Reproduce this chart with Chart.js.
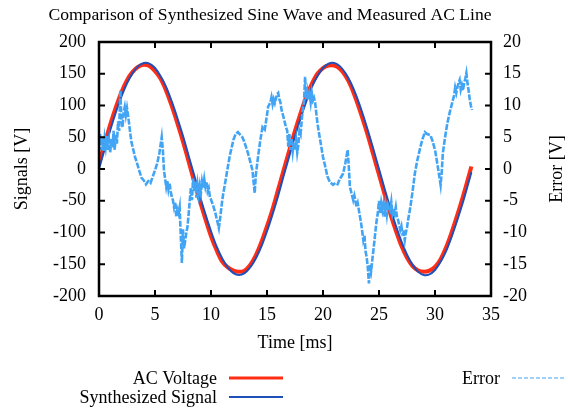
<!DOCTYPE html>
<html>
<head>
<meta charset="utf-8">
<script src="https://cdn.jsdelivr.net/npm/chart.js@4.4.1/dist/chart.umd.min.js"></script>
<style>
html,body{margin:0;padding:0;background:#fff;}
#wrap{width:568px;height:409px;position:relative;}
</style>
</head>
<body>
<div id="wrap"><canvas id="c" width="568" height="409"></canvas></div>
<script>
// ---- data ----
const chartTitle = 'Comparison of Synthesized Sine Wave and Measured AC Line';
const xTitle = 'Time [ms]';
const yTitle = 'Signals [V]';
const y2Title = 'Error [V]';
const seriesNames = ['AC Voltage', 'Synthesized Signal', 'Error'];

const signalTime = [0,0.5,1,1.5,2,2.5,3,3.5,4,4.5,5,5.5,6,6.5,7,7.5,8,8.5,9,9.5,
  10,10.5,11,11.5,12,12.5,13,13.5,14,14.5,15,15.5,16,16.5,17,17.5,18,18.5,19,19.5,
  20,20.5,21,21.5,22,22.5,23,23.5,24,24.5,25,25.5,26,26.5,27,27.5,28,28.5,29,29.5,
  30,30.5,31,31.5,32,32.5,33,33.25];

const acVoltage = [9,40,70,97,121,140,153,161,164,162,
  154,142,123,99,72,43,12,-20,-50,-79,
  -106,-128,-146,-155,-160,-162,-160,-151,-136,-115,
  -90,-63,-32,-1,30,60,88,114,134,150,
  159,163,163,158,147,130,107,81,53,22,
  -9,-40,-70,-97,-121,-140,-153,-160,-162,-160,
  -154,-142,-123,-99,-72,-43,-12,4];

const synthesizedSignal = [0,31,61,89,114,135,151,162,167,166,
  159,146,129,106,80,52,21,-10,-42,-71,
  -98,-122,-141,-155,-164,-167,-164,-155,-141,-122,
  -98,-71,-42,-10,21,52,80,106,129,146,
  159,166,167,162,151,135,114,89,61,31,
  0,-31,-61,-89,-114,-135,-151,-162,-167,-166,
  -159,-146,-129,-106,-80,-52,-21,-5];

const errorTime = [
  0.0,0.1,0.2,0.3,0.4,0.5,0.6,0.7,0.8,0.9,
  1.0,1.1,1.2,1.3,1.4,1.5,1.6,1.7,1.8,1.9,
  2.0,2.1,2.2,2.3,2.4,2.5,2.6,2.7,2.8,2.9,
  3.0,3.2,3.4,3.6,3.8,4.0,4.2,4.4,4.6,4.8,
  5.0,5.2,5.4,5.6,5.7,5.8,5.9,6.0,6.1,6.2,
  6.3,6.4,6.5,6.6,6.7,6.8,6.9,7.0,7.1,7.2,
  7.3,7.4,7.5,7.6,7.7,7.8,7.9,8.0,8.1,8.2,
  8.3,8.4,8.5,8.6,8.7,8.8,8.9,9.0,9.1,9.2,
  9.3,9.4,9.5,9.6,9.7,9.8,9.9,10.0,10.2,10.4,
  10.5,10.6,10.7,10.8,10.9,11.0,11.1,11.3,11.5,11.7,
  11.9,12.0,12.2,12.4,12.6,12.8,12.9,13.1,13.3,13.5,
  13.7,13.8,13.9,14.0,14.1,14.2,14.4,14.6,14.8,15.0,
  15.1,15.3,15.4,15.5,15.6,15.7,15.9,16.0,16.1,16.2,
  16.3,16.5,16.7,16.8,16.9,17.0,17.1,17.2,17.3,17.4,
  17.5,17.6,17.7,17.8,17.9,18.0,18.1,18.2,18.3,18.4,
  18.5,18.6,18.7,18.8,18.9,19.0,19.1,19.2,19.3,19.4,
  19.5,19.6,19.8,20.0,20.2,20.4,20.6,20.9,21.1,21.3,
  21.5,21.8,22.0,22.2,22.3,22.4,22.5,22.7,22.8,23.0,
  23.1,23.3,23.4,23.5,23.6,23.7,23.8,23.9,24.0,24.1,
  24.2,24.3,24.4,24.5,24.6,24.7,24.8,24.9,25.0,25.1,
  25.2,25.3,25.4,25.5,25.6,25.7,25.8,26.0,26.1,26.2,
  26.3,26.4,26.5,26.6,26.7,26.8,26.9,27.0,27.1,27.2,
  27.3,27.4,27.5,27.6,27.8,28.0,28.2,28.4,28.7,28.9,
  29.1,29.3,29.6,29.8,30.0,30.1,30.3,30.5,30.6,30.7,
  30.9,31.1,31.2,31.3,31.4,31.5,31.6,31.7,31.8,31.9,
  32.0,32.1,32.2,32.3,32.4,32.5,32.6,32.7,32.8,32.9,
  33.0,33.1,33.2,33.3];

const errorValues = [
  4.0,5.5,3.0,5.0,2.8,4.8,3.5,5.2,3.0,4.5,
  2.6,4.8,3.4,6.0,3.0,5.5,4.0,7.5,6.0,12.4,
  8.0,6.6,9.0,9.8,8.5,9.6,8.4,7.0,5.5,4.2,
  3.5,2.0,0.9,-0.3,-1.4,-1.8,-2.4,-1.9,-2.2,-1.2,
  -0.2,0.9,2.6,5.0,3.0,-0.2,-1.5,-2.8,-1.8,-3.2,
  -2.2,-3.5,-4.4,-4.9,-6.0,-5.2,-7.5,-6.4,-7.0,-6.0,
  -10.5,-14.8,-9.5,-12.5,-11.2,-10.0,-9.1,-7.2,-5.0,-3.0,
  -4.9,-1.5,-3.5,-2.0,-4.5,-2.5,-4.0,-2.6,-3.8,-2.0,
  -3.0,-1.6,-2.8,-2.0,-3.5,-3.0,-4.4,-4.8,-5.8,-7.0,
  -7.8,-8.5,-9.3,-8.0,-6.5,-5.0,-3.8,-1.8,0.3,2.3,
  3.8,4.6,5.5,5.8,5.4,5.0,4.6,3.6,2.5,1.2,
  -0.2,-2.0,-3.8,-1.0,0.5,1.9,4.5,6.6,6.2,8.5,
  9.8,10.5,11.3,10.2,11.0,10.4,11.8,12.0,11.0,10.5,
  9.3,8.0,6.5,6.1,3.5,5.5,3.0,4.8,2.8,4.2,
  3.0,4.5,2.6,3.8,6.0,5.5,7.7,9.5,10.5,14.5,
  11.0,12.2,10.9,11.8,10.5,12.0,10.8,11.2,10.4,8.8,
  7.3,6.1,4.0,1.9,0.4,-1.2,-2.0,-2.5,-2.2,-2.4,
  -1.6,-0.7,1.0,3.0,0.5,-2.8,-3.5,-4.9,-4.2,-6.0,
  -5.4,-7.5,-8.5,-9.8,-11.2,-10.5,-13.0,-13.9,-15.5,-18.0,
  -15.0,-16.0,-14.3,-12.8,-11.2,-9.5,-8.0,-6.9,-5.0,-7.0,
  -5.4,-6.5,-5.5,-7.5,-5.8,-7.2,-5.6,-6.5,-5.2,-7.0,
  -6.2,-7.0,-6.0,-7.5,-8.0,-8.8,-9.6,-9.0,-10.2,-10.0,
  -11.2,-10.0,-9.2,-8.0,-6.0,-3.5,-0.7,1.2,3.5,4.8,
  5.8,5.5,5.3,4.3,3.0,2.0,-0.2,-2.5,-0.5,2.5,
  5.0,7.2,8.0,8.8,9.5,10.2,10.9,11.5,12.8,12.0,
  12.9,13.5,14.0,12.5,13.2,12.4,13.5,14.2,15.1,13.5,
  12.4,11.0,10.0,9.3];

// ---- build chart ----
const FONT = '"Liberation Serif", "Times New Roman", serif';
const pts = (xs, ys) => xs.map((x, i) => ({x: x, y: ys[i]}));

const gnuplotFrame = {
  id: 'gnuplotFrame',
  afterDatasetsDraw(chart) {
    const {ctx, chartArea: a, scales} = chart;
    ctx.save();
    ctx.strokeStyle = '#000';
    ctx.lineWidth = 2;
    const tl = 6;
    ctx.beginPath();
    scales.x.ticks.forEach(t => {
      const px = scales.x.getPixelForValue(t.value);
      ctx.moveTo(px, a.bottom); ctx.lineTo(px, a.bottom - tl);
      ctx.moveTo(px, a.top); ctx.lineTo(px, a.top + tl);
    });
    scales.y.ticks.forEach(t => {
      const py = scales.y.getPixelForValue(t.value);
      ctx.moveTo(a.left, py); ctx.lineTo(a.left + tl, py);
    });
    scales.y2.ticks.forEach(t => {
      const py = scales.y2.getPixelForValue(t.value);
      ctx.moveTo(a.right, py); ctx.lineTo(a.right - tl, py);
    });
    ctx.stroke();
    ctx.lineWidth = 2.5;
    ctx.strokeRect(a.left, a.top, a.right - a.left, a.bottom - a.top);
    ctx.restore();
  },
  afterDraw(chart) {
    const {ctx, chartArea: a} = chart;
    const ds = chart.data.datasets;
    ctx.save();
    ctx.fillStyle = '#000';
    // title
    ctx.font = '17.6px ' + FONT;
    ctx.textAlign = 'center';
    ctx.textBaseline = 'middle';
    ctx.fillText(chartTitle, 270, 15);
    ctx.font = '18px ' + FONT;
    // right axis title, reading bottom to top
    ctx.save();
    ctx.translate(557, (a.top + a.bottom) / 2);
    ctx.rotate(-Math.PI / 2);
    ctx.fillText(y2Title, 0, 0);
    ctx.restore();
    // legend
    const entries = [
      {d: ds.find(d => d.label === seriesNames[0]), tx: 217, y: 378, lx: 229},
      {d: ds.find(d => d.label === seriesNames[1]), tx: 217, y: 397, lx: 229},
      {d: ds.find(d => d.label === seriesNames[2]), tx: 500, y: 378, lx: 512}
    ];
    ctx.textAlign = 'right';
    entries.forEach(e => {
      ctx.fillStyle = '#000';
      ctx.fillText(e.d.label, e.tx, e.y + 1);
      ctx.beginPath();
      ctx.strokeStyle = e.d.borderColor;
      ctx.lineWidth = e.d.legendWidth;
      ctx.setLineDash(e.d.legendDash || []);
      ctx.moveTo(e.lx, e.y); ctx.lineTo(e.lx + 54, e.y);
      ctx.stroke();
      ctx.setLineDash([]);
    });
    ctx.restore();
  }
};

new Chart(document.getElementById('c'), {
  type: 'line',
  data: {
    datasets: [
      {label: seriesNames[0], data: pts(signalTime, acVoltage), yAxisID: 'y',
       borderColor: '#ff2d14', borderWidth: 4, legendWidth: 3, pointRadius: 0, tension: 0.3, order: 3},
      {label: seriesNames[1], data: pts(signalTime, synthesizedSignal), yAxisID: 'y',
       borderColor: '#1f4fb8', borderWidth: 2, legendWidth: 2, pointRadius: 0, tension: 0.3, order: 2},
      {label: seriesNames[2], data: pts(errorTime, errorValues), yAxisID: 'y2',
       borderColor: '#42a4f4', borderWidth: 2.6, legendWidth: 1.2, borderDash: [6, 1.5], legendDash: [4, 2],
       pointRadius: 0, tension: 0, order: 1}
    ]
  },
  options: {
    responsive: false,
    animation: false,
    layout: {padding: {left: 0, right: 0, top: 42, bottom: 55}},
    plugins: {
      legend: {display: false},
      tooltip: {enabled: false},
      title: {display: false}
    },
    scales: {
      x: {type: 'linear', min: 0, max: 35,
          ticks: {stepSize: 5, color: '#000', padding: 8, font: {family: FONT, size: 18}},
          grid: {display: false, drawTicks: false}, border: {display: false},
          title: {display: true, text: xTitle, color: '#000', font: {family: FONT, size: 18}, padding: 0},
          afterFit(s) { s.height = 58; }},
      y: {type: 'linear', position: 'left', min: -200, max: 200,
          ticks: {stepSize: 50, color: '#000', padding: 13, font: {family: FONT, size: 18}},
          grid: {display: false, drawTicks: false}, border: {display: false},
          title: {display: true, text: yTitle, color: '#000', font: {family: FONT, size: 18}, padding: {top: 11, bottom: 0}},
          afterFit(s) { s.width = 99; }},
      y2: {type: 'linear', position: 'right', min: -20, max: 20,
          ticks: {stepSize: 5, color: '#000', padding: 12, font: {family: FONT, size: 18}},
          grid: {display: false, drawTicks: false}, border: {display: false},
          afterFit(s) { s.width = 77; }}
    }
  },
  plugins: [gnuplotFrame]
});
</script>
</body>
</html>
